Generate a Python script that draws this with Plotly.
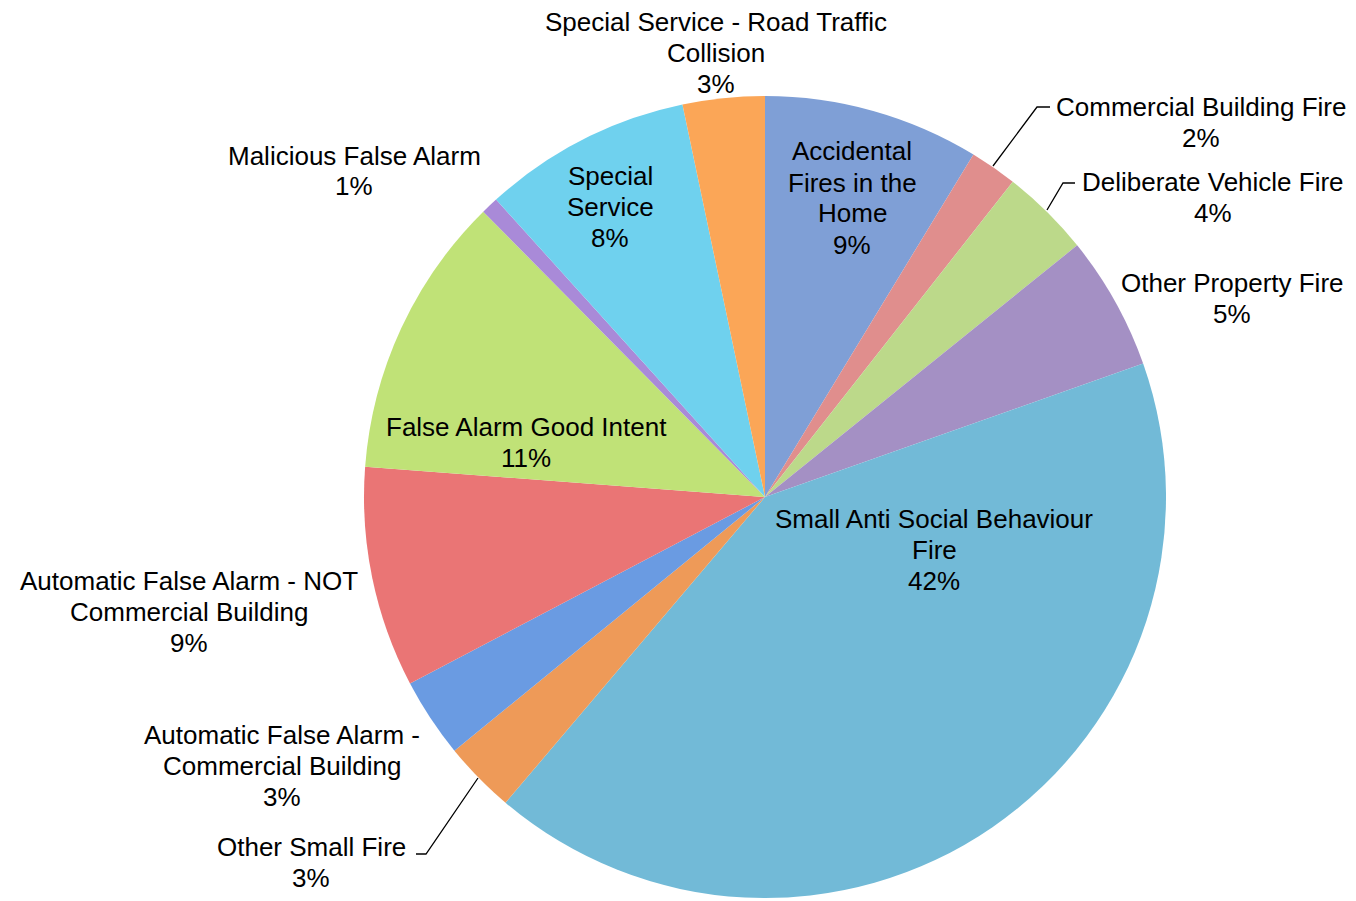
import plotly.graph_objects as go

# ---- data ----
categories = [
    "Accidental Fires in the Home",
    "Commercial Building Fire",
    "Deliberate Vehicle Fire",
    "Other Property Fire",
    "Small Anti Social Behaviour Fire",
    "Other Small Fire",
    "Automatic False Alarm - Commercial Building",
    "Automatic False Alarm - NOT Commercial Building",
    "False Alarm Good Intent",
    "Malicious False Alarm",
    "Special Service",
    "Special Service - Road Traffic Collision",
]
values = [8.7, 1.9, 3.6, 5.4, 41.6, 2.9, 3.2, 8.9, 11.4, 0.7, 8.4, 3.3]

# label text as wrapped in the chart
label_lines = [
    ["Accidental", "Fires in the", "Home"],
    ["Commercial Building Fire"],
    ["Deliberate Vehicle Fire"],
    ["Other Property Fire"],
    ["Small Anti Social Behaviour", "Fire"],
    ["Other Small Fire"],
    ["Automatic False Alarm -", "Commercial Building"],
    ["Automatic False Alarm - NOT", "Commercial Building"],
    ["False Alarm Good Intent"],
    ["Malicious False Alarm"],
    ["Special", "Service"],
    ["Special Service - Road Traffic", "Collision"],
]

# ---- style ----
colors = [
    "#7f9fd6", "#e08e8d", "#bcd98a", "#a490c4", "#72bad7", "#ee9a58",
    "#6a9be2", "#ea7575", "#c0e277", "#a98ad8", "#6fd1ee", "#fba657",
]

W, H = 1356, 901
CX, CY, R = 765, 497, 401
FONT_SIZE = 26
LINE_GAP = 31

def px(x):
    return x / W

def py(y):
    return 1 - y / H

# label block centres in pixels (x, y)
label_pos = [
    (852, 198), (1201, 122), (1213, 197), (1232, 298), (934, 550),
    (311, 862), (282, 766), (189, 612), (526, 442), (354, 171),
    (610, 207), (716, 53),
]

# leader lines in pixels
leaders = [
    [(1050, 107), (1037, 107), (993, 166)],
    [(1075, 183), (1063, 183), (1047, 210)],
    [(416, 854), (426, 854), (478, 778)],
]

fig = go.Figure()
fig.add_trace(go.Pie(
    labels=categories,
    values=values,
    sort=False,
    direction="clockwise",
    rotation=0,
    marker=dict(colors=colors, line=dict(width=0)),
    textinfo="none",
    hoverinfo="label+percent",
    showlegend=False,
    domain=dict(x=[px(CX - R), px(CX + R)], y=[py(CY + R), py(CY - R)]),
))

total = sum(values)
for lines, v, (x, y) in zip(label_lines, values, label_pos):
    pct = f"{round(100 * v / total):d}%"
    all_lines = lines + [pct]
    n = len(all_lines)
    for i, line in enumerate(all_lines):
        ly = y + (i - (n - 1) / 2) * LINE_GAP
        fig.add_annotation(
            x=px(x), y=py(ly), xref="paper", yref="paper",
            text=line, showarrow=False, xanchor="center", yanchor="middle",
            align="center",
            font=dict(family="Liberation Sans, Arial, sans-serif",
                      size=FONT_SIZE, color="#000000"),
        )

for pts in leaders:
    path = "M " + " L ".join(f"{px(a)},{py(b)}" for a, b in pts)
    fig.add_shape(type="path", path=path, xref="paper", yref="paper",
                  line=dict(color="#000000", width=1.3))

fig.update_layout(
    width=W, height=H,
    margin=dict(l=0, r=0, t=0, b=0),
    paper_bgcolor="#ffffff",
    plot_bgcolor="#ffffff",
)

fig.write_html("out.html")
